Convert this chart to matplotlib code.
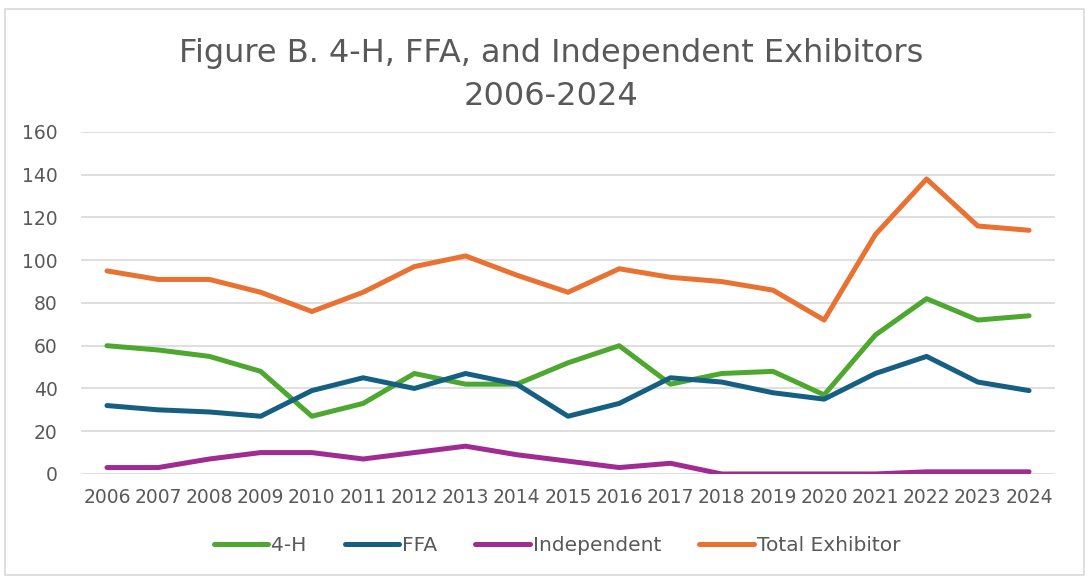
import matplotlib

matplotlib.use("Agg")
import matplotlib.pyplot as plt
from matplotlib.patches import Rectangle

years = [str(y) for y in range(2006, 2025)]
four_h = [60, 58, 55, 48, 27, 33, 47, 42, 42, 52, 60, 42, 47, 48, 37, 65, 82, 72, 74]
ffa = [32, 30, 29, 27, 39, 45, 40, 47, 42, 27, 33, 45, 43, 38, 35, 47, 55, 43, 39]
independent = [3, 3, 7, 10, 10, 7, 10, 13, 9, 6, 3, 5, 0, 0, 0, 0, 1, 1, 1]
total = [95, 91, 91, 85, 76, 85, 97, 102, 93, 85, 96, 92, 90, 86, 72, 112, 138, 116, 114]

series = [
    ("4-H", four_h, "#4EA72E"),
    ("FFA", ffa, "#156082"),
    ("Independent", independent, "#A02B93"),
    ("Total Exhibitor", total, "#E97132"),
]

TEXT = "#595959"
plt.rcParams["font.family"] = ["DejaVu Sans"]

fig = plt.figure(figsize=(10.92, 5.78), dpi=100)
ax = fig.add_axes([0.0745, 0.18, 0.8913, 0.5917])

x = list(range(len(years)))
handles = []
for label, vals, color in series:
    (ln,) = ax.plot(x, vals, color=color, linewidth=3.6, solid_capstyle="round",
                    solid_joinstyle="round", label=label, zorder=3)
    handles.append(ln)

ax.set_xlim(-0.5, len(years) - 0.5)
ax.set_ylim(0, 160)
ax.set_yticks(range(0, 161, 20))
ax.set_xticks(x)
ax.set_xticklabels(years)
ax.grid(axis="y", color="#D9D9D9", linewidth=1.2)
ax.set_axisbelow(True)
for s in ax.spines.values():
    s.set_visible(False)
ax.tick_params(axis="both", length=0, labelsize=13.5, labelcolor=TEXT)
ax.tick_params(axis="y", pad=17)
ax.tick_params(axis="x", pad=10)

fig.text(0.505, 0.87, "Figure B. 4-H, FFA, and Independent Exhibitors\n2006-2024",
         ha="center", va="center", fontsize=23, color=TEXT, linespacing=1.5)

fig.legend(handles=handles, loc="center", bbox_to_anchor=(0.51, 0.057), ncol=4,
           frameon=False, fontsize=14.5, handlelength=2.7, handletextpad=0.15,
           columnspacing=1.9, labelcolor=TEXT)

fig.patches.append(Rectangle((0.005, 0.006), 0.988, 0.978, transform=fig.transFigure,
                             fill=False, edgecolor="#D9D9D9", linewidth=1.2))

fig.savefig("out.png", dpi=100)
